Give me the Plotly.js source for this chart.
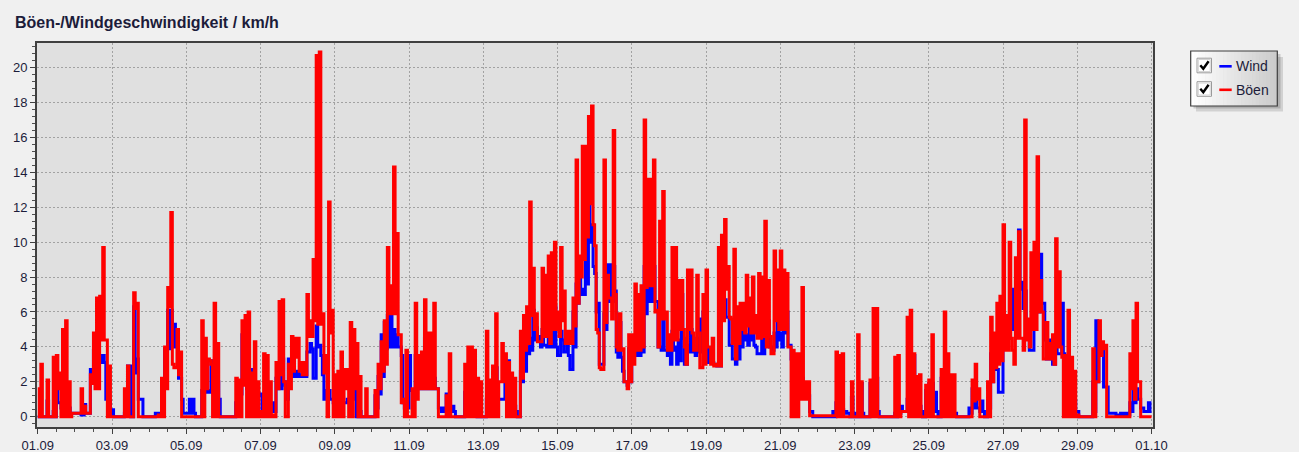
<!DOCTYPE html>
<html>
<head>
<meta charset="utf-8">
<script src="https://cdn.plot.ly/plotly-3.0.1.min.js"></script>
<style>
  html, body { margin: 0; padding: 0; background: #f0f0f0; }
  #chart { width: 1299px; height: 452px; }
</style>
</head>
<body>
<div id="chart"></div>
<script>
// ---------------- DATA ----------------
const chartTitle = 'Böen-/Windgeschwindigkeit / km/h';
const seriesNames = ['Wind', 'Böen'];
const seriesStartUTC = [2023, 8, 1];      // 01.09 (month index 8 = September)
const slotHours = 2;                      // one slot every 2 hours, 12 per day
const xTickFormat = '%d.%m';

// Böen (gusts), km/h: highest value within each 2-hour slot, one row per day
const gustHigh = [
  1.6, 3.0, 0, 2.1, 0, 3.4, 3.5, 2.5, 5.0, 5.5, 2.0, 0.2,            // 01.09
  0.2, 0.2, 1.6, 0.6, 0.2, 2.4, 4.8, 6.8, 6.9, 9.7, 4.4, 2.9,        // 02.09
  0, 0, 0, 0, 1.6, 2.9, 0, 7.1, 6.5, 0, 0, 0,                        // 03.09
  0, 0, 0, 0.1, 2.2, 4.0, 7.4, 11.7, 2.8, 5.0, 3.7, 0,               // 04.09
  0, 0, 0, 0, 0, 5.5, 4.5, 3.3, 3.0, 6.5, 4.2, 0,                    // 05.09
  0, 0, 0, 0, 2.2, 2.1, 5.5, 5.8, 6.0, 2.5, 4.3, 2.0,                // 06.09
  0.3, 3.6, 3.5, 2.0, 0.1, 3.1, 6.6, 6.7, 0, 3.0, 4.6, 4.5,          // 07.09
  4.5, 3.1, 3.1, 7.0, 5.5, 9.0, 20.7, 20.9, 5.9, 3.5, 12.3, 6.1,     // 08.09
  2.4, 2.6, 3.7, 2.7, 2.7, 5.4, 5.0, 4.2, 2.3, 0, 1.6, 0,            // 09.09
  0, 1.5, 3.0, 4.3, 5.5, 9.7, 7.5, 14.3, 10.5, 4.7, 1.0, 3.8,        // 10.09
  0, 1.6, 6.5, 3.5, 3.7, 6.7, 4.8, 4.8, 6.5, 1.6, 0, 0,              // 11.09
  1.2, 3.6, 0, 0, 0, 0, 3.0, 4.0, 4.0, 3.8, 2.2, 2.0,                // 12.09
  0, 4.9, 2.1, 2.9, 5.9, 2.0, 4.2, 3.6, 3.1, 2.5, 2.2, 0,            // 13.09
  4.9, 5.8, 6.3, 12.3, 8.5, 5.9, 4.3, 8.5, 8.1, 9.2, 9.4, 10.0,      // 14.09
  6.0, 9.7, 7.2, 4.9, 4.9, 6.8, 14.7, 9.2, 15.5, 15.5, 17.2, 17.8,   // 15.09
  9.8, 4.8, 2.7, 14.7, 8.1, 6.8, 16.4, 4.0, 5.9, 3.9, 2.0, 4.7,      // 16.09
  4.7, 7.6, 7.0, 7.5, 17.0, 13.6, 13.6, 14.7, 6.1, 11.2, 12.9, 6.0,  // 17.09
  4.7, 9.7, 9.7, 7.8, 7.8, 4.0, 8.4, 8.4, 3.8, 8.1, 2.8, 7.0,        // 18.09
  8.4, 4.0, 4.5, 3.0, 9.7, 10.4, 11.3, 8.6, 5.6, 9.6, 6.3, 6.5,      // 19.09
  6.5, 8.1, 6.8, 8.0, 5.8, 8.2, 8.0, 11.2, 7.8, 3.6, 9.5, 8.4,       // 20.09
  9.5, 8.4, 8.2, 4.0, 3.8, 3.6, 3.6, 7.4, 2.0, 2.0, 0.05, 0.05,      // 21.09
  0.05, 0.05, 0.05, 0.05, 0.05, 0.05, 3.7, 3.5, 3.6, 0, 0, 2.0,      // 22.09
  0, 4.7, 2.0, 0, 0, 2.1, 6.2, 6.2, 0, 0, 0, 0,                      // 23.09
  0, 3.4, 3.5, 0.3, 0.3, 5.7, 6.1, 3.6, 2.3, 2.4, 0, 1.8,            // 24.09
  2.1, 4.7, 0, 0, 2.7, 6.0, 3.6, 2.4, 2.4, 0, 0, 0,                  // 25.09
  0, 0, 2.1, 3.0, 1.6, 0, 0, 2.0, 5.7, 4.8, 6.5, 6.9,                // 26.09
  11.0, 5.8, 10.0, 3.8, 9.1, 10.6, 4.5, 17.0, 5.6, 9.4, 10.0, 14.9,  // 27.09
  7.8, 3.3, 5.4, 4.2, 4.7, 10.2, 8.3, 3.4, 3.5, 6.1, 3.4, 2.6,       // 28.09
  0.1, 0, 0, 0, 0, 3.9, 2.0, 5.5, 4.3, 4.1, 0, 0,                    // 29.09
  0, 0, 0, 0, 0, 3.6, 5.5, 6.5, 2.0, 0, 0, 0                         // 30.09
];

// Böen (gusts), km/h: lowest value within each 2-hour slot
const gustLow = [
  0, 0, 0, 0, 0, 0, 1.6, 0, 0, 0, 0, 0.2,                            // 01.09
  0.2, 0.2, 0.2, 0.2, 0.2, 1.9, 1.6, 1.6, 4.4, 4.4, 0, 0,            // 02.09
  0, 0, 0, 0, 0, 0, 0, 6.2, 0, 0, 0, 0,                              // 03.09
  0, 0, 0, 0, 0, 1.6, 6.3, 3.0, 2.8, 2.4, 0, 0,                      // 04.09
  0, 0, 0, 0, 0, 0, 1.6, 3.2, 0, 0, 0, 0,                            // 05.09
  0, 0, 0, 0, 0, 0, 1.8, 0, 0, 0, 0, 0,                              // 06.09
  0, 0, 0, 0, 0, 1.6, 2.4, 2.0, 0, 1.6, 2.6, 3.4,                    // 07.09
  2.6, 2.4, 2.4, 4.6, 4.6, 5.5, 5.3, 5.3, 2.5, 0, 4.8, 0,            // 08.09
  0, 0, 0, 1.6, 0, 0, 1.6, 0, 0, 0, 0, 0,                            // 09.09
  0, 0, 1.6, 2.6, 3.0, 5.9, 5.9, 5.9, 4.7, 0.8, 0, 0,                // 10.09
  0, 0, 1.0, 1.6, 1.6, 1.6, 1.6, 1.6, 1.6, 0, 0, 0,                  // 11.09
  0, 0, 0, 0, 0, 0, 0, 0, 0, 0, 0, 0,                                // 12.09
  0, 0, 0, 0, 0, 2.0, 2.0, 0, 0, 0, 0, 0,                            // 13.09
  2.2, 3.8, 4.2, 5.8, 5.0, 4.3, 4.3, 4.6, 4.6, 4.2, 5.0, 5.0,        // 14.09
  4.6, 5.5, 4.2, 4.2, 4.2, 5.2, 6.5, 8.0, 9.0, 10.3, 12.2, 11.0,     // 15.09
  5.0, 2.8, 2.7, 5.4, 6.8, 5.6, 7.0, 3.8, 3.8, 2.0, 1.6, 2.0,        // 16.09
  3.0, 3.8, 3.8, 4.0, 7.4, 7.5, 7.5, 6.0, 4.0, 5.6, 5.6, 3.8,        // 17.09
  3.8, 4.4, 4.4, 5.0, 5.0, 3.0, 5.0, 4.8, 3.8, 4.8, 2.8, 3.0,        // 18.09
  4.0, 3.0, 2.9, 2.9, 2.9, 5.5, 7.3, 5.7, 4.2, 3.3, 4.2, 5.0,        // 19.09
  4.8, 5.2, 4.8, 4.8, 4.5, 4.5, 4.6, 4.0, 4.6, 3.6, 5.5, 5.0,        // 20.09
  5.0, 5.0, 4.0, 0, 0, 0, 1.0, 1.0, 1.0, 0.05, 0.05, 0.05,           // 21.09
  0.05, 0.05, 0.05, 0.05, 0.05, 0.05, 0, 0, 0, 0, 0, 0,              // 22.09
  0, 0, 0, 0, 0, 0, 0, 0, 0, 0, 0, 0,                                // 23.09
  0, 0, 0, 0.3, 0.3, 0, 0, 0, 0, 0, 0, 0,                            // 24.09
  0, 0, 0, 0, 0, 0, 0, 0, 0, 0, 0, 0,                                // 25.09
  0, 0, 0.9, 1.0, 0, 0, 0, 0, 2.0, 2.8, 3.0, 3.2,                    // 26.09
  3.8, 3.8, 4.5, 3.0, 4.5, 4.5, 3.8, 4.4, 4.0, 5.0, 5.0, 6.0,        // 27.09
  6.0, 3.3, 3.3, 3.3, 3.0, 4.0, 4.0, 0, 0, 0, 0, 0,                  // 28.09
  0, 0, 0, 0, 0, 0, 2.0, 3.5, 3.9, 0, 0, 0,                          // 29.09
  0, 0, 0, 0, 0, 1.6, 1.0, 2.0, 0, 0, 0, 0                           // 30.09
];

// Wind (mean speed), km/h: highest value within each 2-hour slot
const windHigh = [
  0, 0, 0, 0.9, 0, 0.3, 1.5, 0.8, 1.2, 0.8, 0.5, 0.2,                // 01.09
  0.2, 0.2, 0.1, 0.7, 0.2, 2.7, 3.8, 4.3, 3.5, 3.5, 1.0, 0.9,        // 02.09
  0.4, 0, 0, 0, 0.2, 2.9, 0, 6.3, 3.3, 1.0, 0, 0,                    // 03.09
  0, 0, 0.2, 0.2, 2.1, 3.9, 6.1, 6.1, 5.3, 4.9, 2.2, 0.2,            // 04.09
  0.2, 1.0, 1.0, 0, 0, 1.5, 3.2, 1.5, 3.2, 3.2, 2.0, 0,              // 05.09
  0, 0, 0, 0, 0.8, 1.5, 4.7, 3.5, 1.6, 2.7, 1.8, 1.3,                // 06.09
  1.3, 1.2, 0.3, 0.8, 0.8, 2.2, 2.8, 3.3, 1.8, 3.3, 3.2, 2.6,        // 07.09
  2.6, 2.4, 3.0, 3.7, 4.2, 2.2, 5.2, 4.1, 2.4, 1.5, 1.5, 1.0,        // 08.09
  1.2, 1.6, 0.8, 0.8, 1.0, 1.8, 2.6, 0, 0.3, 0, 0, 0,                // 09.09
  0, 1.2, 2.3, 4.7, 5.4, 5.8, 5.8, 5.0, 4.7, 4.0, 0.8, 1.0,          // 10.09
  3.5, 1.5, 3.5, 1.9, 3.0, 4.5, 1.6, 2.2, 2.2, 1.6, 0.5, 0.5,        // 11.09
  1.3, 0.5, 0.6, 0, 0, 0, 1.4, 1.5, 1.5, 2.2, 0, 0,                  // 12.09
  0, 1.0, 0.8, 1.2, 2.8, 1.0, 1.0, 3.2, 3.2, 1.5, 0.6, 0,            // 13.09
  2.6, 3.6, 4.0, 4.5, 6.1, 5.1, 4.6, 5.0, 4.1, 6.0, 5.1, 6.3,        // 14.09
  3.5, 4.9, 3.7, 4.1, 2.7, 6.0, 7.6, 8.6, 7.3, 10.3, 12.2, 11.0,     // 15.09
  8.2, 6.5, 3.0, 5.9, 8.7, 8.7, 8.6, 3.7, 5.4, 2.6, 2.0, 3.9,        // 16.09
  3.9, 3.7, 3.7, 4.0, 8.6, 9.4, 7.8, 8.6, 6.6, 4.0, 6.0, 3.8,        // 17.09
  3.8, 4.9, 4.0, 4.4, 7.0, 3.0, 4.1, 5.0, 3.8, 4.5, 5.6, 6.0,        // 18.09
  4.1, 3.9, 3.1, 3.0, 3.0, 7.2, 6.7, 5.7, 4.1, 3.3, 6.1, 6.0,        // 19.09
  6.0, 4.7, 5.9, 4.9, 4.0, 3.6, 4.6, 6.4, 5.5, 4.0, 4.8, 6.1,        // 20.09
  4.8, 6.3, 6.0, 4.1, 3.3, 2.8, 1.7, 2.2, 1.4, 1.2, 0.3, 0,          // 21.09
  0, 0, 0, 0, 0, 0.3, 0.8, 0.4, 0.4, 0.3, 0.2, 1.1,                  // 22.09
  0, 0.2, 1.9, 0, 0, 1.9, 1.3, 2.2, 0, 0, 0, 0,                      // 23.09
  0, 0.2, 0.6, 0.6, 0.3, 1.0, 1.2, 3.5, 2.3, 0.6, 0, 1.5,            // 24.09
  1.9, 1.9, 1.4, 0, 2.2, 2.2, 1.0, 0.2, 0.2, 0, 0, 0,                // 25.09
  0, 0.5, 1.6, 0.9, 0.5, 0.9, 0, 0.9, 3.6, 4.0, 2.7, 1.4,            // 26.09
  5.5, 5.2, 5.5, 7.3, 7.3, 10.7, 7.7, 7.2, 4.5, 3.8, 7.6, 8.0,       // 27.09
  9.3, 6.5, 3.3, 4.4, 3.0, 4.0, 3.6, 6.5, 1.6, 2.5, 1.9, 0.9,        // 28.09
  0.3, 0, 0, 0, 0, 2.0, 5.5, 4.9, 3.9, 1.7, 0.2, 0.2,                // 29.09
  0.2, 0.1, 0.2, 0.2, 0.2, 0.8, 2.7, 1.6, 1.0, 0.5, 0.3, 0.8         // 30.09
];

// Wind (mean speed), km/h: lowest value within each 2-hour slot
const windLow = [
  0, 0, 0, 0, 0, 0, 0.8, 0.5, 0.5, 0.3, 0.2, 0.2,                    // 01.09
  0.2, 0.2, 0.1, 0.2, 0.2, 2.0, 2.7, 3.1, 3.1, 3.1, 1.0, 0.2,        // 02.09
  0, 0, 0, 0, 0.2, 2.9, 0, 2.5, 1.0, 1.0, 0, 0,                      // 03.09
  0, 0, 0.2, 0.2, 1.6, 3.9, 3.9, 4.0, 4.0, 2.2, 1.0, 0.2,            // 04.09
  0.2, 0.2, 0.2, 0, 0, 1.5, 1.4, 1.4, 1.5, 1.5, 1.0, 0,              // 05.09
  0, 0, 0, 0, 0.8, 1.3, 3.0, 1.6, 1.2, 1.2, 1.2, 1.2,                // 06.09
  0.3, 0.3, 0.3, 0.3, 0.3, 1.6, 1.6, 2.0, 1.0, 2.4, 2.3, 2.3,        // 07.09
  2.3, 2.3, 2.3, 3.7, 3.9, 2.2, 4.0, 3.5, 1.0, 1.0, 1.0, 0.8,        // 08.09
  0.8, 0.8, 0.8, 0.8, 0.8, 1.0, 1.6, 0, 0, 0, 0, 0,                  // 09.09
  0, 0.5, 1.3, 2.3, 3.9, 4.0, 4.0, 4.0, 4.0, 3.5, 0.5, 0.5,          // 10.09
  1.5, 1.5, 1.6, 1.6, 1.6, 1.6, 1.6, 1.6, 1.6, 0.5, 0.3, 0.3,        // 11.09
  0.5, 0.3, 0.3, 0, 0, 0, 0.5, 1.0, 1.0, 1.0, 0, 0,                  // 12.09
  0, 0.8, 0.8, 0.8, 1.0, 1.0, 1.0, 2.0, 1.5, 0.6, 0.3, 0,            // 13.09
  2.0, 2.6, 3.6, 3.8, 4.4, 4.4, 4.0, 4.1, 4.0, 4.0, 4.0, 4.0,        // 14.09
  3.5, 4.4, 3.7, 3.5, 2.7, 4.0, 6.5, 7.0, 7.0, 7.6, 10.0, 8.6,       // 15.09
  6.0, 3.0, 3.0, 5.0, 6.6, 6.6, 7.2, 3.4, 3.4, 2.0, 1.8, 2.0,        // 16.09
  3.5, 3.5, 3.5, 3.7, 5.9, 6.6, 6.6, 6.6, 4.0, 3.8, 3.8, 3.5,        // 17.09
  3.0, 3.8, 3.0, 3.2, 4.5, 3.0, 3.7, 3.7, 3.5, 3.7, 3.7, 4.0,        // 18.09
  3.1, 3.1, 3.0, 2.9, 2.9, 6.0, 5.7, 4.1, 3.3, 3.0, 3.3, 4.0,        // 19.09
  4.4, 4.1, 4.4, 4.1, 3.6, 3.6, 3.6, 4.1, 4.0, 3.8, 4.0, 4.4,        // 20.09
  4.0, 4.8, 4.1, 3.3, 2.8, 1.7, 1.4, 1.2, 1.2, 0.3, 0, 0,            // 21.09
  0, 0, 0, 0, 0, 0, 0.3, 0.2, 0.2, 0.2, 0, 0.2,                      // 22.09
  0, 0, 0.2, 0, 0, 0.2, 0.2, 0.3, 0, 0, 0, 0,                        // 23.09
  0, 0, 0.2, 0.3, 0.3, 0.3, 0.3, 1.0, 1.0, 0.3, 0, 0.3,              // 24.09
  0.3, 0.3, 0.3, 0, 1.0, 1.0, 0.2, 0.2, 0.2, 0, 0, 0,                // 25.09
  0, 0.2, 0.5, 0.5, 0.3, 0.3, 0, 0.5, 2.0, 2.7, 1.4, 1.4,            // 26.09
  4.6, 4.6, 5.0, 5.0, 6.0, 7.3, 6.2, 4.6, 3.8, 3.8, 6.0, 6.0,        // 27.09
  6.5, 4.4, 3.3, 3.3, 3.0, 3.6, 3.6, 3.6, 1.0, 1.0, 0.9, 0.3,        // 28.09
  0, 0, 0, 0, 0, 0.3, 2.0, 3.9, 1.7, 1.7, 0.2, 0.2,                  // 29.09
  0.1, 0.1, 0.1, 0.1, 0.1, 0.3, 0.8, 1.0, 0.5, 0.3, 0.3, 0.3         // 30.09
];

// ---------------- CHART ----------------
const FONT = '"Liberation Sans", Arial, Helvetica, sans-serif';
const TEXT = '#1c1c3a';
const HOUR = 3600000;
const t0 = Date.UTC(seriesStartUTC[0], seriesStartUTC[1], seriesStartUTC[2]);

// each 2-hour slot: first hour at its high value, second hour at its low value
function slotSeries(high, low) {
  const xs = [], ys = [];
  high.forEach((h, i) => {
    const t = t0 + i * slotHours * HOUR;
    xs.push(t); ys.push(h);
    xs.push(t + (slotHours / 2) * HOUR); ys.push(low[i]);
  });
  xs.push(t0 + high.length * slotHours * HOUR);
  ys.push(low[low.length - 1]);
  return { xs, ys };
}
const wind = slotSeries(windHigh, windLow);
const gust = slotSeries(gustHigh, gustLow);

const traces = [
  { type: 'scatter', mode: 'lines', name: seriesNames[0], x: wind.xs, y: wind.ys,
    line: { color: '#0000ff', width: 3, shape: 'hv' }, showlegend: false, hoverinfo: 'skip' },
  { type: 'scatter', mode: 'lines', name: seriesNames[1], x: gust.xs, y: gust.ys,
    line: { color: '#ff0000', width: 3, shape: 'hv' }, showlegend: false, hoverinfo: 'skip' }
];

// plot-area pixel box (used to place the hand-drawn legend box)
const W = 1299, H = 452;
const L = 37, R = 1153, T = 43, B = 427;
const px = v => (v - L) / (R - L);
const py = v => (B - v) / (B - T);

const shapes = [];
// legend shadow
shapes.push({ type: 'rect', xref: 'paper', yref: 'paper', layer: 'above',
  x0: px(1196), x1: px(1283), y0: py(57), y1: py(111.5),
  fillcolor: 'rgba(0,0,0,0.13)', line: { width: 0 } });
shapes.push({ type: 'rect', xref: 'paper', yref: 'paper', layer: 'above',
  x0: px(1193.5), x1: px(1280.5), y0: py(54), y1: py(108.5),
  fillcolor: 'rgba(0,0,0,0.16)', line: { width: 0 } });
// legend gradient background
const bx0 = 1190.7, bx1 = 1277.3, by0 = 51, by1 = 106;
const strips = 24;
for (let i = 0; i < strips; i++) {
  const f = i / (strips - 1);
  const c = Math.round(255 - f * 52);
  shapes.push({ type: 'rect', xref: 'paper', yref: 'paper', layer: 'above',
    x0: px(bx0 + (bx1 - bx0) * i / strips), x1: px(bx0 + (bx1 - bx0) * (i + 1) / strips + 0.6),
    y0: py(by0), y1: py(by1),
    fillcolor: `rgb(${c},${c},${c})`, line: { width: 0 } });
}
shapes.push({ type: 'rect', xref: 'paper', yref: 'paper', layer: 'above',
  x0: px(bx0), x1: px(bx1), y0: py(by0), y1: py(by1),
  line: { color: '#3c3c3c', width: 1.2 } });
// checkboxes, check marks and line samples
const rows = [{ cy: 65.5, color: '#0000ff', name: seriesNames[0] },
              { cy: 89, color: '#ff0000', name: seriesNames[1] }];
const annotations = [];
rows.forEach(r => {
  shapes.push({ type: 'rect', xref: 'paper', yref: 'paper', layer: 'above',
    x0: px(1197), x1: px(1211.5), y0: py(r.cy - 7.3), y1: py(r.cy + 7.3),
    fillcolor: '#ffffff', line: { color: '#9a9a9a', width: 1 } });
  shapes.push({ type: 'rect', xref: 'paper', yref: 'paper', layer: 'above',
    x0: px(1198.3), x1: px(1210.2), y0: py(r.cy - 6), y1: py(r.cy + 6),
    line: { color: '#d4d4d4', width: 1 } });
  shapes.push({ type: 'path', xref: 'paper', yref: 'paper', layer: 'above',
    path: `M ${px(1200.3)},${py(r.cy - 0.3)} L ${px(1203.3)},${py(r.cy + 3.3)} L ${px(1208.6)},${py(r.cy - 4.2)}`,
    line: { color: '#000000', width: 2.4 } });
  shapes.push({ type: 'line', xref: 'paper', yref: 'paper', layer: 'above',
    x0: px(1219.3), x1: px(1231.7), y0: py(r.cy + 0.8), y1: py(r.cy + 0.8),
    line: { color: r.color, width: 2.6 } });
  annotations.push({ xref: 'paper', yref: 'paper', x: px(1234), y: py(r.cy + 0.6),
    xanchor: 'left', yanchor: 'middle', showarrow: false, text: r.name,
    font: { family: FONT, size: 14, color: TEXT } });
});

const layout = {
  width: W, height: H,
  margin: { l: L, r: W - R, t: T, b: H - B, pad: 0 },
  paper_bgcolor: '#f0f0f0',
  plot_bgcolor: '#e0e0e0',
  font: { family: FONT, size: 13, color: TEXT },
  title: {
    text: '<b>' + chartTitle + '</b>',
    x: 15 / W, xref: 'container', xanchor: 'left',
    y: 1 - 22 / H, yref: 'container', yanchor: 'middle',
    font: { family: FONT, size: 16, color: TEXT }
  },
  showlegend: false,
  xaxis: {
    type: 'date',
    range: ['2023-08-31 23:31', '2023-10-01 00:58'],
    tick0: '2023-09-01', dtick: 2 * 24 * HOUR,
    tickformat: xTickFormat,
    ticks: 'outside', ticklen: 5, tickwidth: 1, tickcolor: '#404040',
    minor: { dtick: 12 * HOUR, ticks: 'outside', ticklen: 3, tickcolor: '#505050', showgrid: false },
    showgrid: true, gridcolor: '#a2a2a2', griddash: '2px,2px', gridwidth: 1,
    showline: true, mirror: true, linecolor: '#404040', linewidth: 2,
    zeroline: false, fixedrange: true,
    tickfont: { family: FONT, size: 13, color: TEXT }
  },
  yaxis: {
    range: [-0.59, 21.41],
    tick0: 0, dtick: 2,
    ticks: 'outside', ticklen: 5, tickwidth: 1, tickcolor: '#404040',
    minor: { dtick: 0.4, ticks: 'outside', ticklen: 3, tickcolor: '#505050', showgrid: false },
    showgrid: true, gridcolor: '#a2a2a2', griddash: '2px,2px', gridwidth: 1,
    showline: true, mirror: true, linecolor: '#404040', linewidth: 2,
    zeroline: false, fixedrange: true,
    tickfont: { family: FONT, size: 13, color: TEXT }
  },
  shapes: shapes,
  annotations: annotations
};

Plotly.newPlot('chart', traces, layout, { staticPlot: true, displayModeBar: false });
</script>
</body>
</html>
